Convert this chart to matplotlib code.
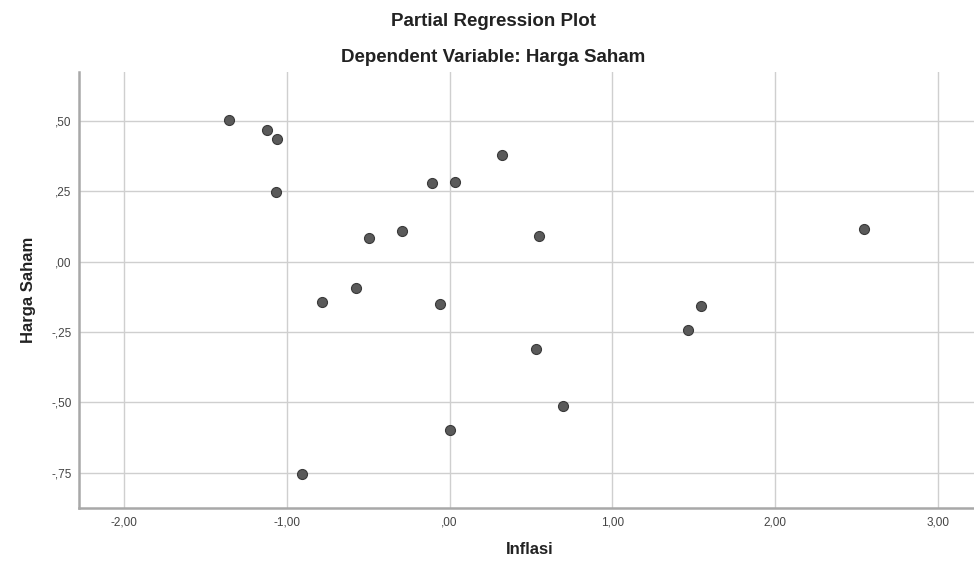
import matplotlib
matplotlib.use("Agg")
import matplotlib.pyplot as plt
from matplotlib.ticker import FuncFormatter

plt.rcParams['font.family'] = ['Liberation Sans', 'DejaVu Sans']

inflasi = [-1.353, -1.124, -1.062, -1.066, -0.106, 0.034, 0.321, -0.495, -0.294, 0.548,
           2.549, -0.784, -0.573, -0.058, 1.546, 1.464, 0.534, 0.696, 0.003, -0.905]
harga_saham = [0.504, 0.468, 0.435, 0.249, 0.279, 0.282, 0.377, 0.083, 0.108, 0.091,
               0.115, -0.144, -0.093, -0.150, -0.157, -0.242, -0.311, -0.512, -0.598, -0.754]
x_ticks = [-2, -1, 0, 1, 2, 3]
y_ticks = [-0.75, -0.5, -0.25, 0, 0.25, 0.5]


def spss_fmt(v, pos=None):
    s = f"{abs(v):.2f}".replace('.', ',')
    if s.startswith('0'):
        s = s[1:]
    if v < -1e-9:
        s = '-' + s
    return s


fig = plt.figure(figsize=(9.74, 5.66), dpi=100)
ax = fig.add_axes([0.0808, 0.102, 0.9265, 0.771])
ax.set_xlim(-2.279, 3.267)
ax.set_ylim(-0.876, 0.674)

ax.set_xticks(x_ticks)
ax.set_yticks(y_ticks)
ax.xaxis.set_major_formatter(FuncFormatter(spss_fmt))
ax.yaxis.set_major_formatter(FuncFormatter(spss_fmt))
ax.grid(True, color='#cfcfcf', linewidth=1.0)
ax.set_axisbelow(True)
ax.tick_params(length=0, labelsize=8.5, colors='#444444')
ax.tick_params(axis='x', pad=6)
ax.tick_params(axis='y', pad=5)

for side in ['top', 'right']:
    ax.spines[side].set_visible(False)
for side in ['left', 'bottom']:
    ax.spines[side].set_color('#a8a8a8')
    ax.spines[side].set_linewidth(1.8)

ax.scatter(inflasi, harga_saham, s=52, color='#5a5a5a', edgecolors='#3a3a3a',
           linewidths=0.8, zorder=3)

ax.set_xlabel('Inflasi', fontsize=12, fontweight='bold', color='#222222', labelpad=10)
ax.set_ylabel('Harga Saham', fontsize=12, fontweight='bold', color='#222222', labelpad=11)

fig.text(493 / 974, 1 - 21 / 566, 'Partial Regression Plot', ha='center', va='center',
         fontsize=13.5, fontweight='bold', color='#222222')
fig.text(493 / 974, 1 - 57 / 566, 'Dependent Variable: Harga Saham', ha='center', va='center',
         fontsize=13.5, fontweight='bold', color='#222222')

fig.savefig('out.png', dpi=100)
